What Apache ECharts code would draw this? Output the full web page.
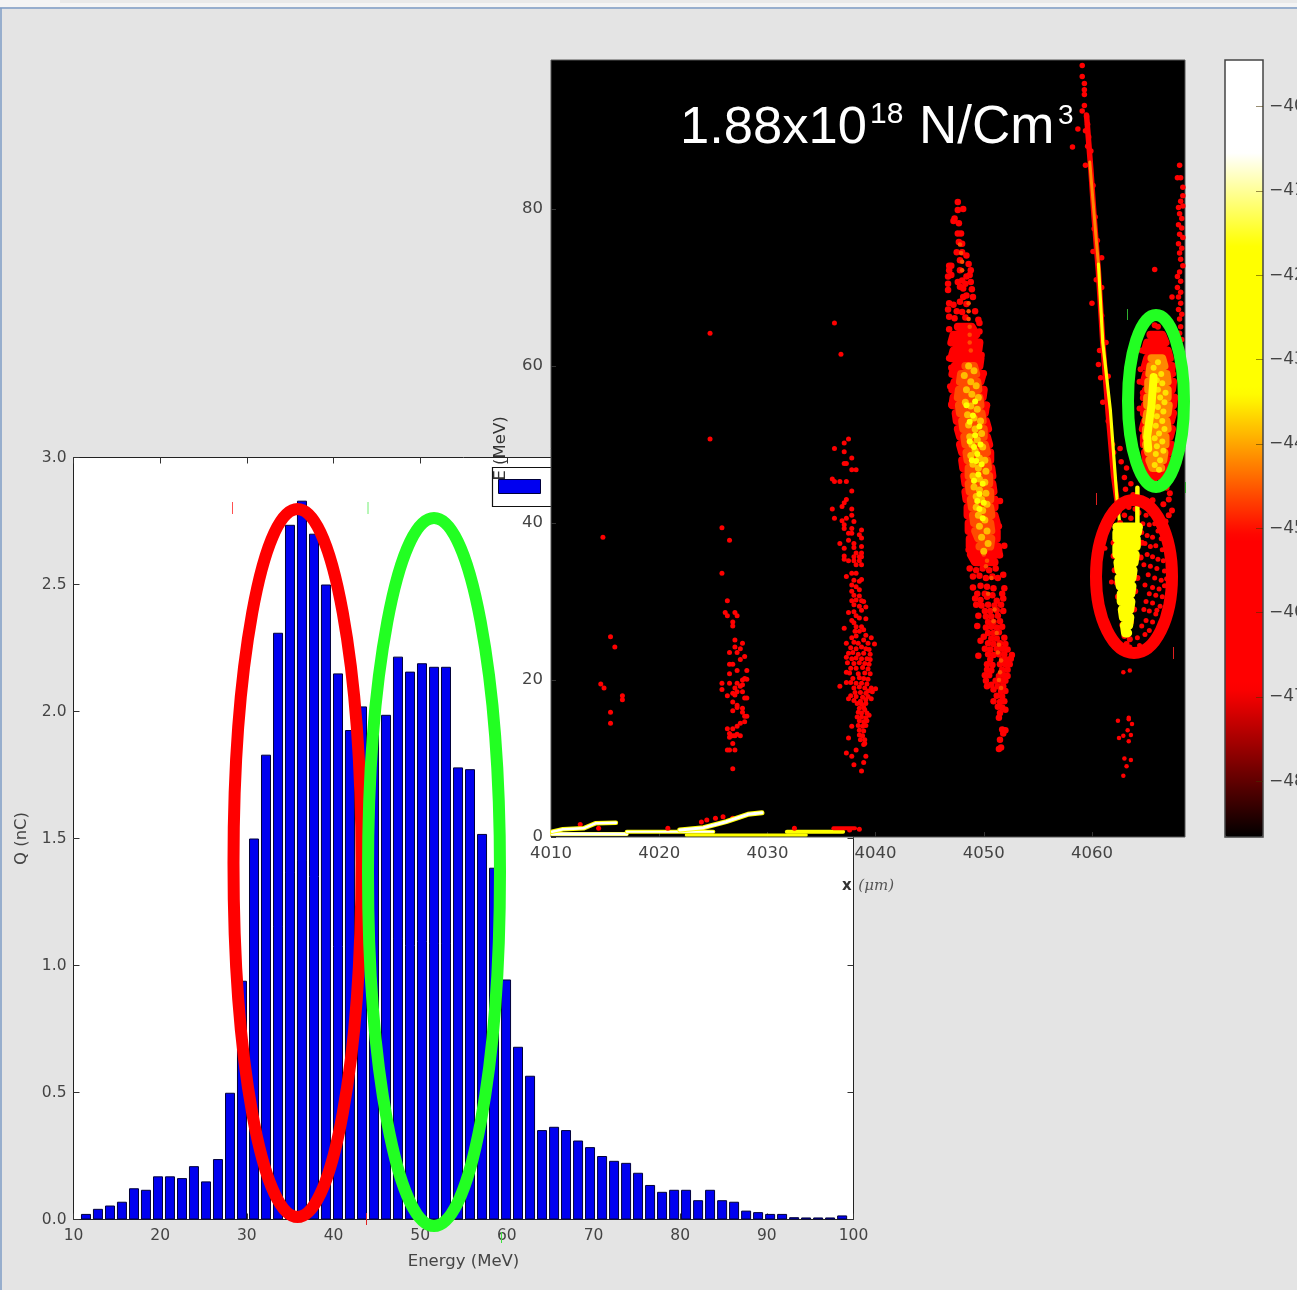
<!DOCTYPE html>
<html><head><meta charset="utf-8">
<style>html,body{margin:0;padding:0;background:#e4e4e4;overflow:hidden}#c{width:1297px;height:1290px;filter:blur(.7px)}</style>
<script src="https://cdn.jsdelivr.net/npm/echarts@6/dist/echarts.min.js"></script>
</head><body><div id="c"></div>
<script>
/* ---------- energy spectrum ---------- */
const energyBins=[11.44,12.82,14.21,15.59,16.98,18.36,19.75,21.13,22.52,23.9,25.29,26.67,28.06,29.44,30.83,32.21,33.6,34.98,36.36,37.75,39.13,40.52,41.9,43.29,44.67,46.06,47.44,48.83,50.21,51.6,52.98,54.37,55.75,57.14,58.52,59.91,61.29,62.68,64.06,65.45,66.83,68.22,69.6,70.99,72.37,73.76,75.14,76.53,77.91,79.3,80.68,82.07,83.45,84.84,86.22,87.61,88.99,90.38,91.76,93.15,94.53,95.92,97.3,98.69];
const chargeNC=[.022,.042,.055,.07,.123,.117,.17,.17,.163,.21,.15,.238,.499,.94,1.5,1.83,2.31,2.735,2.83,2.7,2.5,2.15,1.927,2.02,1.92,1.987,2.216,2.157,2.19,2.176,2.176,1.78,1.773,1.518,1.385,.945,.68,.566,.352,.365,.352,.311,.285,.25,.231,.223,.184,.136,.109,.117,.117,.076,.117,.076,.07,.035,.029,.022,.022,.009,.008,.008,.008,.016];
/* ---------- axis tick labels ---------- */
const phaseXTicks=[4010,4020,4030,4040,4050,4060];
const phaseYTicks=[0,20,40,60,80];
const colorTicks=[-40,-41,-42,-43,-44,-45,-46,-47,-48];
/* ---------- colour scale: log10 density at the stops ---------- */
const scaleMin=-48.66, scaleMax=-39.45;
const scaleStops=[[-48.66,0,0,0],[-46.9,255,0,0],[-45.1,255,0,0],[-43.4,255,255,0],[-41.66,255,255,0],[-40.55,255,255,255],[-39.45,255,255,255]];
const LV={red:-46,redOrange:-44.6,orange:-44.2,gold:-43.85,amber:-43.6,yellow:-43,white:-40.3};
/* ---------- phase space: [x um, E MeV] ---------- */
const sparseDots=[[4014.8,38.2],[4024.7,64.2],[4036.8,61.5],[4036.2,65.5],[4015.5,25.5],[4015.9,24.2],[4014.6,19.5],[4014.9,19],[4016.6,18],[4016.6,17.5],[4015.5,15.9],[4015.5,14.5],[4024.7,50.7],[4025.8,39.4],[4026.5,37.8],[4025.8,33.6],[4026.3,30.1],[4026.1,28.6],[4026.3,28.2],[4027,28.6],[4027.2,28.2],[4026.8,27.4],[4026.8,26.9],[4027,25.1],[4027.7,24.7],[4027,24.2],[4027.5,24],[4027.2,23.5],[4026.5,23.5],[4027.9,23],[4027.5,22.6],[4026.5,22],[4026.8,22],[4027.2,21.2],[4028.1,21.2],[4026.5,20.8],[4027.9,20.2],[4028.1,20.1],[4027.7,20],[4025.8,19.6],[4026.5,19.6],[4027.2,19.6],[4027.7,19.4],[4027.5,19.2],[4027,19],[4025.8,18.8],[4027.2,18.5],[4027.7,18.5],[4026.8,18.3],[4027,18.1],[4026.3,18],[4027.9,17.7],[4028.1,17.7],[4026.8,17.2],[4027.2,16.8],[4027.2,16.5],[4027.7,16.4],[4026.8,16.1],[4027.7,15.9],[4027.9,15.4],[4028.1,15.4],[4027.9,14.7],[4027.5,14.5],[4027.2,14.1],[4026.3,13.8],[4026.8,13.8],[4026.5,13.2],[4026.8,12.9],[4027,12.9],[4027.5,12.9],[4027.2,13.1],[4026.5,12.7],[4026.8,11.9],[4026.3,11.1],[4026.5,11.1],[4027,11.1],[4026.8,8.7]];
const bunch3Dots=[[4037.5,50.7],[4037.1,50.2],[4036.2,49.5],[4037.1,49.1],[4037.8,48.3],[4037.1,47.6],[4037.3,47.6],[4037.8,46.8],[4038.2,46.8],[4036,45.6],[4036.2,45.3],[4036.7,45.3],[4037.3,45.3],[4037.8,44.1],[4037.3,43],[4037.1,42.6],[4036.9,42.1],[4036,41.8],[4037.8,41.8],[4037.8,41],[4036.2,40.6],[4037.3,40.6],[4036.9,40.3],[4038,40.2],[4037.1,39.8],[4037.1,39.3],[4037.8,39.3],[4038.7,39.1],[4037.5,38.7],[4037.8,38.7],[4038.5,38.5],[4038.7,38.1],[4037.5,37.8],[4036.7,37.4],[4038,37.4],[4038.7,37],[4038,36.9],[4037.1,36.8],[4038.2,36.2],[4038.7,36.2],[4037.1,35.8],[4038,35.7],[4038.5,35.7],[4038.7,35.7],[4037.1,35.4],[4037.5,35.2],[4038,35.2],[4038.5,35.2],[4038.2,34.7],[4038.7,34.7],[4037.3,33.2],[4037.8,33.6],[4038.2,33.6],[4038,32.7],[4038.5,32.6],[4038.7,32.8],[4037.8,32.1],[4038.2,31.9],[4038.5,31.5],[4037.8,31.3],[4038,30.8],[4038.5,30.7],[4038.2,30.2],[4037.8,30.1],[4038.7,30.1],[4038.9,30],[4038,29.6],[4038.5,29.4],[4039.1,29.3],[4037.5,28.6],[4038,28.7],[4038.7,28.9],[4038.2,28.2],[4037.8,27.6],[4038.5,27.9],[4039.1,27.8],[4038,27.3],[4037.1,26.6],[4038.2,26.8],[4038.7,26.8],[4038.1,26.2],[4038.5,26.2],[4038.9,26.4],[4038.2,25.6],[4039.6,25.4],[4037.8,25.4],[4039.1,25.7],[4038.9,25.1],[4037.3,24.7],[4038,24.8],[4038.4,24.7],[4039.3,24.7],[4039.9,24.6],[4037.7,24.1],[4038.2,24],[4038.7,24.2],[4039.1,24],[4039.4,23.9],[4037.5,23.4],[4037.9,23.5],[4038.4,23.3],[4038.9,23.4],[4039.5,23.3],[4037.3,22.9],[4037.8,22.7],[4038.2,22.8],[4038.7,22.7],[4039.2,22.7],[4039.5,22.6],[4037.4,22.2],[4038,22.1],[4038.5,22.2],[4039,22.1],[4039.4,22],[4037.7,21.5],[4038.2,21.5],[4038.8,21.6],[4039.3,21.4],[4037.3,21],[4037.6,20.9],[4038.4,20.8],[4039,20.9],[4039.5,20.8],[4037.9,20.2],[4038.5,20.3],[4038.9,20.2],[4039.3,20.1],[4037.3,19.7],[4037.7,19.7],[4038.2,19.6],[4038.7,19.6],[4039.2,19.5],[4036.7,19.2],[4038,19],[4038.5,19.1],[4039,19],[4039.6,19],[4039.3,18.6],[4040,18.9],[4038.1,18.4],[4038.6,18.4],[4039.1,18.3],[4039.7,18.5],[4037.7,18],[4038.2,17.9],[4038.8,17.8],[4039.3,17.9],[4037.5,17.6],[4038,17.4],[4038.6,17.3],[4039.1,17.5],[4039.6,17.6],[4038.3,17],[4038.7,16.9],[4039.1,17],[4038.5,16.4],[4038.9,16.5],[4039,16.2],[4038.4,15.9],[4038.7,15.8],[4039.2,15.8],[4038.3,15.3],[4038.7,15.3],[4039.1,15.2],[4039.4,15.5],[4038.5,14.8],[4038.9,14.7],[4039.2,14.8],[4038.4,14.2],[4038.8,14.1],[4039.1,14.2],[4037.8,14.1],[4038.5,13.6],[4038.9,13.5],[4038.5,13],[4038.8,12.9],[4037.5,12.6],[4038.6,12.4],[4039,12.4],[4038.9,11.8],[4039,11.9],[4037.3,10.7],[4038.2,11.1],[4037.8,10.3],[4039.1,10.3],[4038.9,9.5],[4038,9.2],[4038.7,8.4]];
const mainRedDots=[[4047.6,80.9],[4048.1,80],[4047.6,79.9],[4047.3,78.8],[4047.2,78.5],[4047.7,78.2],[4047.6,76.9],[4047.9,76.9],[4047.7,75.8],[4048,75.6],[4047.5,74.5],[4048,74.5],[4048.4,74.1],[4047.8,73.5],[4046.8,72.8],[4047,72.8],[4048.6,73],[4048.8,72.2],[4046.8,72.2],[4047,71.6],[4047.8,72.2],[4046.7,71.4],[4048.4,71.4],[4048.7,71.6],[4048,70.9],[4047.6,70.7],[4048.3,70.5],[4048.8,70.7],[4046.7,70.5],[4047.8,70.1],[4048.1,69.9],[4046.7,69.7],[4048.9,69.8],[4048.4,69],[4049,68.8],[4048.1,68.8],[4046.8,68],[4047.2,67.8],[4047.8,68.2],[4048.4,67.9],[4046.7,67.2],[4047.5,67],[4048,66.9],[4049.2,67],[4046.8,66.3],[4047.3,66.1],[4048.3,66.2],[4049.5,65.9],[4049.6,65.5],[4046.8,64.7],[4049.6,64.4],[4049.8,61.4],[4046.8,61],[4047,59.8],[4050,59.1],[4046.9,57.4],[4047,55.1],[4050.3,55],[4051.5,42.8],[4051.4,39.6],[4051.9,37.1],[4048.6,36.6],[4051.5,35.9],[4048.7,34.2],[4049.3,34],[4049.9,34.2],[4050.5,34],[4051.1,34.2],[4051.8,33.4],[4049,33.2],[4049.6,33.3],[4050.2,33],[4050.8,33.2],[4051.3,33],[4049,31.8],[4049.7,32],[4050.3,31.9],[4050.9,31.7],[4051.9,31.7],[4049.4,31],[4050.1,31],[4051.7,31],[4049.2,30.4],[4049.7,30.2],[4050.3,30.6],[4050.8,30.8],[4051.2,30.1],[4051.8,30.4],[4049.3,29.6],[4049.8,29.5],[4050.4,29.6],[4051,29.5],[4051.6,29.6],[4050.1,28.8],[4050.6,28.8],[4051.2,28.9],[4051.8,28.8],[4049.5,28.2],[4050.2,28.1],[4050.7,28.1],[4051.3,28.2],[4050.4,27.4],[4050.9,27.4],[4051.5,27.5],[4049.4,26.9],[4050.2,26.7],[4050.7,26.8],[4051.2,26.7],[4051.7,26.8],[4050.4,26],[4050.9,26],[4051.4,26.1],[4050,25.5],[4050.7,25.3],[4051.2,25.3],[4051.9,25.4],[4049.7,25],[4050.4,24.7],[4050.9,24.6],[4051.5,24.7],[4052,24.6],[4050.1,24],[4050.6,23.9],[4051.2,24],[4051.7,24],[4052.2,23.9],[4049.5,23.1],[4050.4,23.3],[4050.9,23.2],[4051.4,23.3],[4051.9,23.3],[4052.6,23.2],[4050.6,22.6],[4051.7,22.6],[4052.1,22.6],[4052.5,22.7],[4050.3,22],[4050.8,21.9],[4051.5,22],[4052,22],[4052.4,22],[4050.3,21.3],[4050.7,21.2],[4051.7,21.3],[4052.2,21.3],[4050.1,20.6],[4050.5,20.6],[4051.4,20.5],[4051.9,20.6],[4052.2,20.5],[4050.2,19.9],[4051.1,19.9],[4051.6,19.9],[4052,19.9],[4050.3,19.2],[4050.7,19.4],[4051.3,19.2],[4051.8,19.2],[4050.9,18.8],[4051.6,18.6],[4052,18.6],[4051.2,18],[4051.7,17.9],[4050.9,17.3],[4051.5,17.2],[4051.9,17.3],[4051.3,16.6],[4051.7,16.5],[4052,16.2],[4051.5,15.8],[4051.4,15.2],[4051.7,13.7],[4052,13.6],[4051.8,13.2],[4051.5,12.4],[4051.4,11.2],[4051.6,11.4]];
/* band outlines read row by row: left edge, right edge at each energy */
const mainBodyRed=[[4047.6,65],[4048.9,65],[4049.3,64],[4047.2,64],[4047,63],[4049.6,63],[4049.5,62],[4047.2,62],[4047,61],[4049.7,61],[4049.6,60],[4047.3,60],[4047.1,59],[4049.9,59],[4049.7,58],[4047.3,58],[4047.1,57],[4050,57],[4049.9,56],[4047.2,56],[4047.1,55],[4050.2,55],[4050.1,54],[4047.4,54],[4047.5,53],[4050.2,53],[4050.4,52],[4047.6,52],[4047.8,51],[4050.3,51],[4050.5,50],[4047.8,50],[4048,49],[4050.6,49],[4050.6,48],[4048,48],[4048.1,47],[4050.7,47],[4050.8,46],[4048.2,46],[4048.3,45],[4050.8,45],[4050.9,44],[4048.3,44],[4048.4,43],[4051,43],[4051,42],[4048.5,42],[4048.5,41],[4051,41],[4051.2,40],[4048.6,40],[4048.6,39],[4051.2,39],[4051.2,38],[4048.7,38],[4048.7,37],[4051.3,37],[4051.4,36],[4048.8,36],[4049.2,35],[4051,35]];
const mainBodyOrange=[[4048.3,60],[4049.1,60],[4049.3,59],[4047.9,59],[4047.8,58],[4049.4,58],[4049.5,57],[4047.7,57],[4047.6,56],[4049.6,56],[4049.7,55],[4047.7,55],[4047.8,54],[4049.8,54],[4049.9,53],[4048,53],[4048.1,52],[4050,52],[4050,51],[4048.2,51],[4048.3,50],[4050.1,50],[4050.3,49],[4048.4,49],[4048.5,48],[4050.3,48],[4050.4,47],[4048.6,47],[4048.6,46],[4050.5,46],[4050.5,45],[4048.6,45],[4048.7,44],[4050.6,44],[4050.6,43],[4048.8,43],[4048.9,42],[4050.6,42],[4050.7,41],[4049,41],[4049.1,40],[4050.6,40],[4050.7,39],[4049.2,39],[4049.5,38],[4050.7,38],[4050.6,37],[4049.6,37]];
const mainGoldDots=[[4048.6,60],[4049.1,59.4],[4048.2,58.8],[4048.8,58],[4049.3,57.5],[4048.4,57],[4048.9,56.4],[4049.5,56],[4048.3,55.4],[4048.8,54.9],[4049.4,54.5],[4048.5,53.8],[4049.1,53.4],[4049.7,53],[4048.6,52.5],[4049.2,52],[4049.8,51.4],[4048.7,51],[4049.4,50.6],[4048.9,50],[4049.9,49.7],[4049.2,49.2],[4048.8,48.6],[4049.6,48.3],[4050.1,48],[4049,47.5],[4049.5,47],[4050.2,46.6],[4049,46],[4049.6,45.6],[4050.1,45.2],[4049.1,44.6],[4049.6,44.2],[4050.2,43.8],[4049.3,43.4],[4049.8,43],[4050.3,42.4],[4049.3,42],[4049.9,41.6],[4049.5,41],[4050.1,40.4],[4049.6,39.6],[4050.3,39],[4049.8,38.2],[4050.4,37.4],[4050,36.4]];
const mainYellowDots=[[4049.2,55.5],[4049,53.7],[4048.4,55],[4049.6,52.3],[4049.2,51.2],[4048.7,50.4],[4049.7,50],[4049.4,48.8],[4048.9,48],[4049.8,47.5],[4049.5,46.2],[4049.1,45.4],[4049.9,45],[4049.6,43.7],[4050,42.6],[4049.4,42.8],[4049.6,41.8],[4049.9,40.6],[4049.1,49.7],[4048.7,52.9],[4049.3,47.9]];
const mainOrangeSpecks=[[4047.8,75.5],[4047.9,74.4],[4048,73.3],[4048,72.2],[4048.6,68],[4048.6,67],[4048.6,66],[4048.7,65],[4048.7,64],[4048.7,63],[4048.8,62],[4050,36],[4050.3,35.2],[4050.2,34.5],[4050.7,33],[4050.4,31],[4051,29],[4050.9,27.5],[4051.2,26],[4051.4,24.5],[4051.3,23.5],[4051.6,22.5],[4051.5,21],[4051.4,20],[4051.6,19]];
const clusterBodyRed=[[4065.4,64],[4066.5,64],[4066.8,63],[4065.1,63],[4064.9,62],[4067,62],[4067.2,61],[4065.1,61],[4064.9,60],[4067.4,60],[4067.3,59],[4065,59],[4064.8,58],[4067.5,58],[4067.4,57],[4065,57],[4064.8,56],[4067.6,56],[4067.5,55],[4064.9,55],[4064.8,54],[4067.5,54],[4067.3,53],[4064.9,53],[4064.7,52],[4067.4,52],[4067.2,51],[4064.8,51],[4064.8,50],[4067.3,50],[4067.1,49],[4064.9,49],[4065,48],[4067.2,48],[4067,47],[4065.1,47],[4065.2,46],[4066.8,46]];
const clusterBodyOrange=[[4065.5,61],[4066.5,61],[4066.7,60],[4065.4,60],[4065.3,59],[4066.9,59],[4067,58],[4065.2,58],[4065.2,57],[4067,57],[4067,56],[4065.1,56],[4065.1,55],[4067.1,55],[4067,54],[4065.1,54],[4065,53],[4066.9,53],[4067,52],[4065,52],[4065,51],[4066.8,51],[4066.8,50],[4065,50],[4065.2,49],[4066.7,49],[4066.6,48],[4065.3,48],[4065.6,47],[4066.4,47]];
const clusterYellowLine=[[4065.7,58.6],[4065.5,55],[4065.1,51],[4065.2,49.5]];
const clusterGoldDots=[[4066.1,60.5],[4065.7,59.8],[4066.4,59],[4066,58.2],[4066.5,57.8],[4066.1,57],[4066.8,56.6],[4066.3,56],[4066.7,55.4],[4066.1,54.8],[4066.6,54.2],[4066,53.6],[4066.5,53],[4065.9,52.4],[4066.7,52],[4066.2,51.4],[4065.8,50.8],[4066.5,50.4],[4066,49.8],[4066.6,49.2],[4065.9,48.8],[4066.3,48],[4065.8,47.4],[4066.2,46.8]];
const clusterRedDots=[[4065.8,65.2],[4066.1,65],[4064.6,62],[4064.5,59.6],[4067.5,59],[4064.4,58],[4067.7,56],[4064.7,56.6],[4064.4,54.6],[4065,47.5],[4065.1,46.8],[4067.2,46.4],[4065.3,45.8],[4066.8,45.8],[4065.8,45.2],[4066.3,45],[4065.5,44.4],[4066.9,44.5],[4067.2,43.8],[4065.6,42.9],[4067.1,43],[4066.6,42.4],[4067.4,41.6],[4067.1,41],[4066.8,40.2]];
const edgeStripeDots=[[4068.1,85.6],[4067.9,84],[4068.2,84],[4068.4,82.8],[4068.4,81.7],[4068.2,81],[4068,80.2],[4068.4,80.4],[4068.1,79.4],[4068.3,78.8],[4068,78],[4068.3,77.6],[4068.1,76.8],[4068.4,76.4],[4068,75.6],[4068.3,75],[4068.1,74.4],[4068.2,73.6],[4068.4,72.8],[4068.1,72],[4067.9,71.4],[4068.2,70.8],[4067.9,70],[4068.2,69.4],[4068,68.8],[4068.2,68],[4068,67.2],[4068.3,66.6],[4068.1,66],[4068.2,65],[4068.1,64.2],[4068.3,63.4],[4067.4,68.8],[4065.8,72.3]];
const streakDots=[[4059.1,98.3],[4059.1,96.9],[4059.3,96],[4059.3,95.2],[4059.3,94.6],[4059.3,93.2],[4059.1,92.5],[4058.7,90.2],[4058.2,87.9],[4059.5,91.8],[4059.6,90.8],[4059.4,90],[4059.7,89.2],[4059.6,88],[4059.9,87.4],[4059.4,85.6],[4060.1,83],[4060.3,79],[4060.2,77.5],[4060.5,76],[4060.1,74.6],[4060.9,73.8],[4060.4,71],[4060.9,70],[4060,68],[4060.9,66.4],[4061.3,63],[4060.7,62],[4060.6,60.2],[4060.8,58.5],[4061.5,58.7],[4061.4,56.5],[4061,55.4],[4061.5,53],[4061.9,50],[4062,49],[4062.6,49.5],[4062.7,47.8],[4063.2,47],[4063,45.8],[4063.6,45],[4063.1,44.3],[4063.8,43.6],[4063,43],[4063.4,42],[4064,41.8],[4062.1,42],[4062.5,41.5],[4063,41],[4063.6,40.6]];
const streakHalo=[[4059.5,92],[4059.9,85],[4060.2,79],[4060.6,72],[4061,63],[4061.5,54],[4062,46],[4062.4,42]];
const streakOrange=[[4059.8,86],[4060.1,81],[4060.4,76],[4060.6,73]];
const streakYellow=[[4060.6,73],[4061,63],[4061.7,54.4],[4062.3,43.3],[4062.6,39.5]];
const wedgeBody=[[4062.3,39.5],[4064.3,39.5],[4064.2,38.8],[4062.3,38.8],[4062.3,38],[4064.1,38],[4064.1,37],[4062.3,37],[4062.3,36],[4064,36],[4063.9,35],[4062.4,35],[4062.5,34],[4063.8,34],[4063.7,33],[4062.5,33],[4062.6,32],[4063.7,32],[4063.6,31],[4062.7,31],[4062.7,30],[4063.6,30],[4063.5,29],[4062.8,29],[4062.9,28],[4063.5,28],[4063.4,27],[4063,27],[4063.1,26],[4063.3,26]];
const wedgeStreak=[[4064.2,44.5],[4064.2,39.5]];
const wedgeGlowDots=[[4062.2,39.6],[4062.6,40],[4064.3,41.3],[4062,37.5],[4062,35.8],[4062.1,34],[4064.6,37.5],[4064.5,35.6],[4062.3,32.4],[4064.2,33],[4064,31.3],[4062.4,30.6],[4062.7,28.8],[4063.9,29],[4062.8,27],[4063.6,27.4],[4063,25.6],[4063.2,24.6],[4063.5,25.2]];
const rightOfWedgeDots=[[4065,41],[4065.5,41.2],[4064.7,39.9],[4065.3,39.8],[4065.8,39.9],[4066.1,39],[4064.6,38.8],[4065.1,38.4],[4065.6,38.2],[4066.4,38],[4064.9,37.4],[4065.4,37],[4065.9,37.1],[4066.5,36.6],[4065.1,36],[4065.6,35.7],[4066.1,35.4],[4066.6,35.2],[4064.8,34.7],[4065.4,34.5],[4066,34.2],[4066.7,33.9],[4065.2,33.4],[4065.8,33],[4066.4,32.7],[4066.9,32.9],[4064.9,32.1],[4065.6,31.8],[4066.2,31.6],[4066.7,32],[4065.3,31],[4065.9,30.8],[4066.5,30.6],[4065,30],[4065.6,29.8],[4066.3,29.4],[4064.8,29],[4065.3,28.8],[4065.9,28.4],[4065,27.6],[4065.6,27.4],[4064.6,26.9],[4065.3,26.3],[4064.9,25.8],[4064.2,25.4],[4066,28.9],[4061.8,32.5],[4061.2,36.8],[4063.5,24.2],[4063.9,23.4],[4064.4,24.4]];
const lowerDots=[[4062.9,21],[4063.5,21.2],[4063.4,15],[4062.4,14.8],[4063.4,15.2],[4063.7,14.4],[4063.3,13.6],[4062.9,12.9],[4063.4,12.2],[4062.5,12.6],[4063,10],[4063.6,9.8],[4063.2,9],[4062.9,7.8],[4063.6,13]];
const baseWhiteLow=[[4010.1,.38],[4017,.38]];
const baseWhiteMid=[[4017,.68],[4025,.68]];
const baseYellowLow=[[4022.5,.25],[4033.6,.25]];
const baseYellowMid=[[4031.8,.68],[4037,.68]];
const baseRedTail=[[4036.1,1.1],[4038.1,1.1]];
const bandB=[[4010.1,.68],[4011.1,.98],[4013,1.1],[4014.1,1.74],[4016,1.82]];
const bandC=[[4021.9,.89],[4024.1,1.19],[4026.2,1.95],[4028.2,2.89],[4029.5,3.1]];
const bandRedDots=[[4012.7,1.6],[4014.4,1.1],[4020.8,1.1],[4023.9,1.9],[4024.4,2.17],[4025.9,2.59],[4025.2,2.4],[4026.8,2.4],[4032.5,1.1],[4037.6,.9],[4038.5,1]];

/* ---------- helpers ---------- */
function hot(v){
  for(let i=1;i<scaleStops.length;i++){const a=scaleStops[i-1],b=scaleStops[i];
    if(v<=b[0]){const t=Math.max(0,(v-a[0])/(b[0]-a[0]));
      return 'rgb('+[1,2,3].map(k=>Math.round(a[k]+(b[k]-a[k])*t)).join(',')+')';}}
  return '#fff';
}
const scaleColors=[];for(let i=0;i<=92;i++)scaleColors.push(hot(scaleMin+(scaleMax-scaleMin)*i/92));

const PH={xAxisIndex:2,yAxisIndex:2,zlevel:1,silent:true,animation:false};
const dots=(arr,lv,size)=>Object.assign({type:'scatter',data:arr.map(p=>[p[0],p[1],lv]),symbolSize:size,itemStyle:{opacity:1}},PH);
const line=(arr,lv,w)=>Object.assign({type:'line',data:arr,symbol:'none',lineStyle:{color:hot(lv),width:w,cap:'round',join:'round'},itemStyle:{color:hot(lv)}},PH);

const phaseSeries=[
 dots(sparseDots,LV.red,5),dots(bunch3Dots,LV.red,5),
 line(mainBodyRed,LV.red,8),dots(mainRedDots,LV.red,6.5),
 line(mainBodyOrange,LV.redOrange,8),dots(mainOrangeSpecks,LV.redOrange,4.5),dots(mainGoldDots,LV.gold,7),dots(mainYellowDots,LV.yellow,6),
 line(streakHalo,LV.red,5.5),dots(streakDots,LV.red,5.5),line(streakOrange,LV.orange,3),line(streakYellow,LV.yellow,3.2),
 dots(edgeStripeDots,LV.red,5.5),
 line(clusterBodyRed,LV.red,8),dots(clusterRedDots,LV.red,6),line(clusterBodyOrange,LV.orange,8),dots(clusterGoldDots,LV.amber,6),line(clusterYellowLine,LV.yellow,8),
 dots(wedgeGlowDots,LV.red,6),dots(rightOfWedgeDots,LV.red,5),dots(lowerDots,LV.red,4.5),
 line(wedgeBody,LV.yellow,9),line(wedgeStreak,LV.yellow,4.5),
 line(baseYellowLow,LV.yellow,3),line(baseYellowMid,LV.yellow,4),line(baseRedTail,LV.red,4),
 line(baseWhiteLow,LV.yellow,4),line(baseWhiteLow,LV.white,3),line(baseWhiteMid,LV.yellow,4),line(baseWhiteMid,LV.white,2),
 dots(bandRedDots,LV.red,5),
 line(bandB,LV.yellow,4.5),line(bandB,LV.white,2.5),line(bandC,LV.yellow,5),line(bandC,LV.white,3)
];
phaseSeries.forEach((s,i)=>{s.z=i+2;});
const scatterIdx=[];phaseSeries.forEach((s,i)=>{if(s.type==='scatter')scatterIdx.push(i+1);});

const tickCol='#444', LAB={color:tickCol,fontFamily:'DejaVu Sans',fontSize:15.5};
const mirror={axisLabel:{show:false},splitLine:{show:false},axisLine:{show:false,onZero:false},axisTick:{inside:true,length:6,lineStyle:{color:'#333'}}};
const ellipse=(cx,cy,rx,ry,col)=>({type:'ellipse',zlevel:3,silent:true,shape:{cx,cy,rx,ry},style:{fill:null,stroke:col,lineWidth:12}});
const mark=(x,y1,y2,col)=>({type:'line',zlevel:2,silent:true,shape:{x1:x,y1,x2:x,y2},style:{stroke:col,lineWidth:1}});
const sup=(t,x,y,size)=>({type:'text',zlevel:2,silent:true,x,y,style:{text:t,fill:'#fff',font:size+'px "Liberation Sans"',textVerticalAlign:'bottom',textAlign:'left'}});

const chart=echarts.init(document.getElementById('c'),null,{renderer:'canvas'});
chart.setOption({
 animation:false,backgroundColor:'#e4e4e4',
 grid:[
  {left:73.5,top:457.5,width:780,height:762,show:true,backgroundColor:'#fff',borderColor:'#222',borderWidth:1,zlevel:0,outerBoundsMode:'none'},
  {left:551,top:60,width:634,height:777,show:true,backgroundColor:'#000',borderColor:'#555',borderWidth:1,zlevel:1,outerBoundsMode:'none'},
  {left:1225,top:60,width:38,height:777,show:true,backgroundColor:'transparent',borderColor:'#444',borderWidth:1.5,zlevel:1,outerBoundsMode:'none'}
 ],
 xAxis:[
  {gridIndex:0,type:'value',min:10,max:100,interval:10,position:'bottom',splitLine:{show:false},axisLine:{show:false,onZero:false},axisTick:{inside:true,length:6,lineStyle:{color:'#333'}},axisLabel:Object.assign({margin:8},LAB),
   name:'Energy (MeV)',nameLocation:'middle',nameGap:34,nameTextStyle:{color:'#444',fontFamily:'DejaVu Sans',fontSize:16.5}},
  Object.assign({gridIndex:0,type:'value',min:10,max:100,interval:10,position:'top'},mirror),
  {gridIndex:1,type:'value',min:4010,max:4068.6,position:'bottom',splitLine:{show:false},axisLine:{show:false,onZero:false},
   axisTick:{inside:true,length:5,customValues:phaseXTicks,lineStyle:{color:'#333'}},
   axisLabel:Object.assign({margin:8,customValues:phaseXTicks,showMinLabel:true,showMaxLabel:true,hideOverlap:false,formatter:v=>String(v)},LAB,{fontSize:16.5}),
   zlevel:1,name:'{a|x}  {b|(μm)}',nameLocation:'middle',nameGap:42,
   nameTextStyle:{rich:{a:{color:'#333',fontFamily:'DejaVu Sans',fontWeight:'bold',fontSize:15},b:{color:'#555',fontFamily:'DejaVu Serif',fontStyle:'italic',fontSize:15}}}},
  {gridIndex:2,type:'value',min:0,max:1,show:false,zlevel:1}
 ],
 yAxis:[
  {gridIndex:0,type:'value',min:0,max:3,interval:.5,position:'left',splitLine:{show:false},axisLine:{show:false,onZero:false},axisTick:{inside:true,length:6,lineStyle:{color:'#333'}},
   axisLabel:Object.assign({margin:7,formatter:v=>v.toFixed(1)},LAB),
   name:'Q (nC)',nameLocation:'middle',nameGap:43,nameTextStyle:{color:'#444',fontFamily:'DejaVu Sans',fontSize:16.5}},
  Object.assign({gridIndex:0,type:'value',min:0,max:3,interval:.5,position:'right'},mirror),
  {gridIndex:1,type:'value',min:0,max:99,position:'left',splitLine:{show:false},axisLine:{show:false,onZero:false},
   axisTick:{inside:true,length:5,customValues:phaseYTicks,lineStyle:{color:'#333'}},
   axisLabel:Object.assign({margin:8,customValues:phaseYTicks,showMinLabel:true,hideOverlap:false},LAB,{fontSize:16.5}),
   zlevel:1,name:'E (MeV)',nameLocation:'middle',nameGap:42,nameTextStyle:{color:'#333',fontFamily:'DejaVu Sans',fontSize:16.5}},
  {gridIndex:2,type:'value',min:scaleMin,max:scaleMax,position:'right',splitLine:{show:false},axisLine:{show:false,onZero:false},
   axisTick:{inside:true,length:7,customValues:colorTicks,lineStyle:{color:'rgba(70,50,0,.55)'}},
   axisLabel:Object.assign({margin:6,customValues:colorTicks,hideOverlap:false,formatter:v=>'\u2212'+Math.abs(Math.round(v))},LAB,{fontSize:17}),zlevel:1}
 ],
 visualMap:{type:'continuous',seriesIndex:scatterIdx,dimension:2,min:scaleMin,max:scaleMax,left:1225,top:60,itemWidth:38,itemHeight:777,padding:0,
  calculable:false,hoverLink:false,showLabel:false,text:null,inRange:{color:scaleColors},zlevel:0},
 series:[
  {type:'bar',xAxisIndex:0,yAxisIndex:0,data:energyBins.map((e,i)=>[e,chargeNC[i]]),barWidth:10,silent:true,zlevel:0,
   itemStyle:{color:'#0000f0',borderColor:'#00003a',borderWidth:1}}
 ].concat(phaseSeries),
 graphic:{elements:[
  {type:'rect',zlevel:0,z:-10,silent:true,shape:{x:0,y:0,width:1297,height:7},style:{fill:'#f4f4f4'}},
  {type:'rect',zlevel:0,z:-9,silent:true,shape:{x:60,y:0,width:1237,height:3},style:{fill:'#e9e9e9'}},
  {type:'line',zlevel:0,z:-8,silent:true,shape:{x1:0,y1:8,x2:1297,y2:8},style:{stroke:'#7e9cc6',lineWidth:1.5}},
  {type:'line',zlevel:0,z:-8,silent:true,shape:{x1:1,y1:8,x2:1,y2:1290},style:{stroke:'#7e9cc6',lineWidth:1.5}},
  {type:'rect',zlevel:0,z:50,silent:true,shape:{x:492.5,y:467.5,width:62,height:39},style:{fill:'#fff',stroke:'#111',lineWidth:1.2}},
  {type:'rect',zlevel:0,z:51,silent:true,shape:{x:498.5,y:479.5,width:42,height:14},style:{fill:'#0000f0',stroke:'#00003a',lineWidth:1}},
  mark(232.5,502,514,'#ff5050'),mark(368,502,514,'#70ee70'),mark(366.5,1213,1225,'#e02020'),mark(501.5,1232,1243,'#40e040'),
  mark(1127.5,309,320,'#30b030'),mark(1096.5,493,505,'#e02020'),mark(1173.5,647,659,'#e02020'),mark(1185.5,482,493,'#30b030'),
  ellipse(297.5,863,64,354,'#ff0000'),ellipse(434,872,66,354,'#22ff22'),
  ellipse(1156,401,28,86,'#22ff22'),ellipse(1134,576.5,38,76.5,'#ff0000'),
  sup('1.88x10',680,155,52.5),sup('18',870,130,30),sup('N/Cm',919,155,53),sup('3',1058,130,28)
 ]}
});
</script></body></html>
